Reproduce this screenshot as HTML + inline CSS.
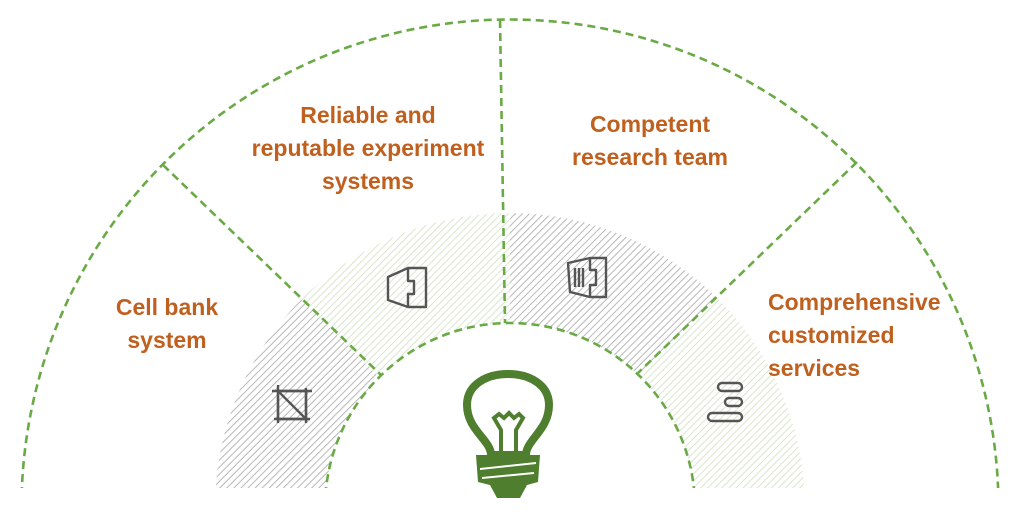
<!DOCTYPE html>
<html><head><meta charset="utf-8"><style>
body{margin:0;background:#fff;width:1020px;height:522px;overflow:hidden;position:relative;font-family:"Liberation Sans",Arial,sans-serif}
.t{position:absolute;color:#c0601f;font-weight:bold;font-size:23px;line-height:33px;text-align:center;white-space:nowrap}
</style></head><body>
<svg width="1020" height="522" style="position:absolute;left:0;top:0">
<defs>
<pattern id="g" width="5" height="5" patternUnits="userSpaceOnUse" patternTransform="rotate(45)">
<rect width="5" height="5" fill="#fff"/><line x1="0" y1="0" x2="0" y2="5" stroke="#b0b0b0" stroke-width="1.8"/></pattern>
<pattern id="l" width="5" height="5" patternUnits="userSpaceOnUse" patternTransform="rotate(45)">
<rect width="5" height="5" fill="#fff"/><line x1="0" y1="0" x2="0" y2="5" stroke="#d6e3c8" stroke-width="1.8"/></pattern>
<clipPath id="c"><rect x="0" y="0" width="1020" height="488"/></clipPath>
</defs>
<g clip-path="url(#c)">
<path d="M215 508 A295 295 0 0 1 301.4 299.4 L379.2 377.2 A185 185 0 0 0 325 508 Z" fill="url(#g)"/>
<path d="M301.4 299.4 A295 295 0 0 1 510 213 L510 323 A185 185 0 0 0 379.2 377.2 Z" fill="url(#l)"/>
<path d="M510 213 A295 295 0 0 1 718.6 299.4 L640.8 377.2 A185 185 0 0 0 510 323 Z" fill="url(#g)"/>
<path d="M718.6 299.4 A295 295 0 0 1 805 508 L695 508 A185 185 0 0 0 640.8 377.2 Z" fill="url(#l)"/>
<g fill="none" stroke="#6aaa45" stroke-width="2.6" stroke-dasharray="8 5">
<path d="M21.5 508 A488.5 488.5 0 0 1 998.5 508"/>
<path d="M325 508 A185 185 0 0 1 695 508"/>
<line x1="163" y1="165" x2="381" y2="375"/>
<line x1="857" y1="162" x2="638" y2="373"/>
<line x1="500" y1="20" x2="505" y2="323"/>
</g>
</g>
<g fill="none" stroke="#555" stroke-width="2.4" stroke-linejoin="round">
<rect x="278" y="391" width="28" height="28"/>
<line x1="272" y1="391" x2="312" y2="391"/><line x1="278" y1="385" x2="278" y2="423"/>
<line x1="274" y1="419" x2="310" y2="419"/><line x1="306" y1="388" x2="306" y2="423"/>
<line x1="278" y1="391" x2="306" y2="419"/>
<path d="M388 277 L408 268 L426 268 L426 307 L408 307 L388 300 Z"/>
<path d="M408 268 L408 281 L414 281 L414 294 L408 294 L408 307"/>
<path d="M568 263 L590 258 L606 258 L606 297 L590 297 L570 292 Z"/>
<path d="M590 258 L590 270 L596 270 L596 285 L590 285 L590 297"/>
<line x1="575" y1="268" x2="575" y2="287"/><line x1="579" y1="268" x2="579" y2="287"/><line x1="583" y1="268" x2="583" y2="287"/>
<rect x="718" y="383" width="24" height="8" rx="4"/>
<rect x="725" y="398" width="17" height="8" rx="4"/>
<rect x="708" y="413" width="34" height="8" rx="4"/>
</g>
<g stroke="#4e7e2e" fill="none">
<path d="M491 455 C491 440 467 430 467 405 C467 385 486 374 508 374 C530 374 549 385 549 405 C549 430 526 440 526 455 Z" stroke-width="8"/>
<path d="M501 455 L501 430 L494 418 L499 414 L504 418 L509 413 L514 418 L519 414 L523 418 L516 430 L516 455" stroke-width="4"/>
</g>
<path d="M476 455 L540 455 L538 482 L527 485 L520 498 L497 498 L490 485 L478 482 Z" fill="#4e7e2e"/>
<line x1="480" y1="469" x2="536" y2="463" stroke="#fff" stroke-width="2"/>
<line x1="482" y1="478" x2="534" y2="473" stroke="#fff" stroke-width="2"/>
</svg>
<div class="t" style="left:47px;top:291px;width:240px">Cell bank<br>system</div>
<div class="t" style="left:228px;top:99px;width:280px">Reliable and<br>reputable experiment<br>systems</div>
<div class="t" style="left:520px;top:108px;width:260px">Competent<br>research team</div>
<div class="t" style="left:768px;top:286px;text-align:left">Comprehensive<br>customized<br>services</div>
</body></html>
